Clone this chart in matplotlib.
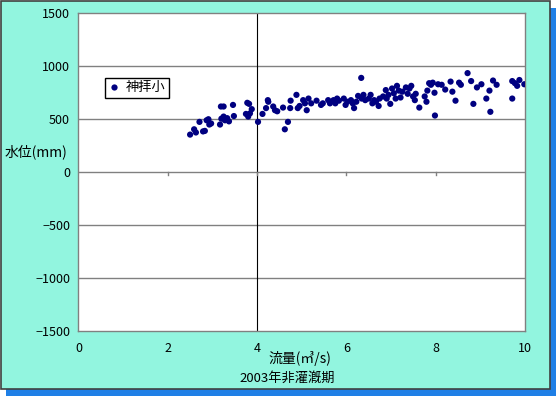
import matplotlib
matplotlib.use("Agg")
import matplotlib.pyplot as plt
from matplotlib.patches import Rectangle
from matplotlib.lines import Line2D

plt.rcParams['font.family'] = ['Noto Sans CJK JP', 'DejaVu Sans']

series_name = "神拝小"
flow = [2.50, 2.59, 2.63, 2.71, 2.79, 2.83, 2.87, 2.91, 2.93, 2.97,
        3.17, 3.19, 3.25, 3.20, 3.25, 3.28, 3.33, 3.37, 3.46, 3.48,
        3.78, 3.82, 3.75, 3.80, 3.84, 3.88, 4.02, 4.12, 4.20, 4.24,
        4.25, 4.36, 4.40, 4.45, 4.58, 4.62, 4.69, 4.74, 4.75, 4.88,
        4.91, 4.95, 5.03, 5.07, 5.11, 5.15, 5.21, 5.33, 5.43, 5.47,
        5.59, 5.63, 5.71, 5.75, 5.79, 5.83, 5.94, 5.98, 6.02, 6.10,
        6.14, 6.17, 6.22, 6.26, 6.33, 6.34, 6.38, 6.42, 6.50, 6.54,
        6.58, 6.62, 6.66, 6.72, 6.74, 6.82, 6.88, 6.90, 6.94, 6.98,
        7.02, 7.06, 7.10, 7.13, 7.17, 7.21, 7.25, 7.33, 7.37, 7.41,
        7.45, 7.49, 7.53, 7.55, 7.63, 7.75, 7.79, 7.81, 7.85, 7.89,
        7.93, 7.97, 7.98, 8.05, 8.13, 8.21, 8.33, 8.37, 8.44, 8.52,
        8.56, 8.71, 8.79, 8.84, 8.92, 9.02, 9.13, 9.20, 9.22, 9.28,
        9.36, 9.71, 9.71, 9.77, 9.82, 9.87, 9.98]
level = [350, 400, 370, 470, 380, 385, 485, 495, 445, 455,
         445, 615, 615, 500, 520, 485, 505, 475, 630, 525,
         650, 640, 545, 520, 550, 590, 470, 545, 600, 675,
         660, 615, 580, 570, 605, 400, 470, 600, 670, 725,
         600, 620, 675, 645, 580, 690, 645, 670, 630, 645,
         675, 645, 675, 645, 690, 670, 690, 630, 660, 675,
         645, 600, 660, 715, 885, 690, 725, 675, 690, 725,
         645, 675, 660, 620, 690, 710, 770, 690, 725, 640,
         785, 740, 690, 810, 765, 700, 755, 795, 735, 785,
         810, 710, 675, 735, 605, 710, 660, 765, 835, 820,
         840, 745, 530, 825, 820, 775, 850, 755, 670, 840,
         820, 930, 855, 640, 795, 825, 690, 765, 565, 860,
         820, 690, 855, 835, 810, 865, 825]

x_ticks = [0, 2, 4, 6, 8, 10]
y_ticks = [-1500, -1000, -500, 0, 500, 1000, 1500]
x_label = "流量(㎥/s)"
y_label = "水位(mm)"
subtitle = "2003年非灌漑期"

W, H = 556, 396
fig = plt.figure(figsize=(W / 100, H / 100), dpi=100)
fig.patch.set_facecolor('white')

# shadow
fig.patches.append(Rectangle((6 / W, 0), (W - 6) / W, (H - 8) / H, transform=fig.transFigure,
                             facecolor='#1f7fe6', edgecolor='none', zorder=0))
# panel
fig.patches.append(Rectangle((0.5 / W, 7.5 / H), 549 / W, 388 / H, transform=fig.transFigure,
                             facecolor='#92f5df', edgecolor='#404040', linewidth=1.2, zorder=1))

ax = fig.add_axes([78.4 / W, (H - 330.7) / H, (525.2 - 78.4) / W, (330.7 - 12.7) / H])
ax.set_zorder(2)
ax.set_facecolor('white')
ax.set_xlim(0, 10)
ax.set_ylim(-1500, 1500)

for yv in y_ticks[1:-1]:
    if yv != 0:
        ax.axhline(yv, color='#808080', linewidth=1.0, zorder=1)
# axes crossing lines
ax.axhline(0, color='#808080', linewidth=1.0, zorder=1)
ax.axvline(4, color='black', linewidth=0.8, zorder=1)
for xv in x_ticks[1:-1]:
    ax.plot([xv, xv], [0, -30], color='#808080', linewidth=1.0, zorder=1)

for s in ax.spines.values():
    s.set_color('#808080')
    s.set_linewidth(1.0)

ax.scatter(flow, level, s=20, color='#000080', edgecolors='none', zorder=3)

ax.set_xticks(x_ticks)
ax.set_yticks(y_ticks)
ax.set_yticklabels([str(v).replace('-', '\u2212') for v in y_ticks])
ax.tick_params(axis='both', length=0, labelsize=9, colors='black')
ax.tick_params(axis='x', pad=8)
ax.tick_params(axis='y', pad=6)

fig.text(5 / W, 1 - 152 / H, y_label, fontsize=10, ha='left', va='center')
fig.text(300 / W, 1 - 358 / H, x_label, fontsize=10, ha='center', va='center')
fig.text(287 / W, 1 - 378 / H, subtitle, fontsize=9.5, ha='center', va='center')

handle = Line2D([], [], linestyle='none', marker='o', markersize=4.5,
                markerfacecolor='#000080', markeredgecolor='none')
leg = ax.legend([handle], [series_name], loc='upper left',
                bbox_to_anchor=((105 - 78.4) / (525.2 - 78.4), 1 - (78 - 12.7) / 318),
                fontsize=9.5, frameon=True, fancybox=False, framealpha=1,
                edgecolor='black', handlelength=0.8, handletextpad=0.5,
                borderpad=0.25, borderaxespad=0)
leg.get_frame().set_linewidth(1.0)

fig.savefig('out.png', dpi=100)
